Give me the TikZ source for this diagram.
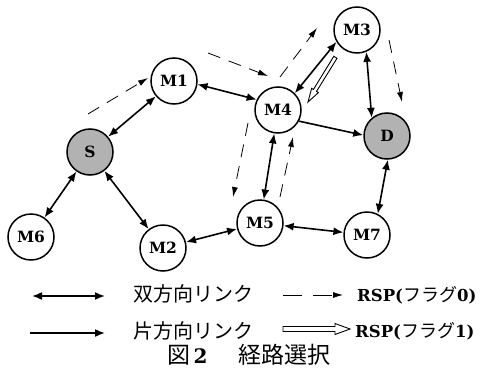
\documentclass[tikz,border=0pt]{standalone}
\usepackage{fontspec}
\newfontfamily\jp{Noto Sans CJK JP}
\newfontfamily\latb{DejaVu Serif}
\usetikzlibrary{arrows.meta}
\begin{document}
\begin{tikzpicture}[x=1pt,y=-1pt,
  nd/.style={circle,draw,line width=1.5pt,minimum size=46pt,inner sep=0pt,
    font=\fontsize{15.5}{15.5}\selectfont\latb\bfseries},
  gnd/.style={nd,fill=black!30},
  bi/.style={line width=1.6pt,{Latex[length=10pt,width=8pt]}-{Latex[length=10pt,width=8pt]}},
  uni/.style={line width=1.6pt,-{Latex[length=10pt,width=8pt]}},
  rsp/.style={line width=0.8pt,dash pattern=on 13pt off 9pt,-{Latex[length=10pt,width=6pt]}},
  hollow/.style={line width=0.9pt,fill=white,line join=miter},
  lab/.style={anchor=west,inner sep=0pt,font=\fontsize{20}{20}\selectfont\jp},
  rsplab/.style={anchor=west,inner sep=0pt,font=\fontsize{18}{18}\selectfont\jp},
]
\useasboundingbox (0,0) rectangle (494,369);
% nodes
\node[gnd] (S)  at (90,152)  {S};
\node[nd]  (M1) at (174,81)  {M1};
\node[nd]  (M6) at (31,237)  {M6};
\node[nd]  (M2) at (163,248) {M2};
\node[nd]  (M4) at (278,110) {M4};
\node[nd]  (M3) at (357,30)  {M3};
\node[gnd] (D)  at (387,136) {D};
\node[nd]  (M5) at (260,223) {M5};
\node[nd]  (M7) at (367,235) {M7};
% links
\draw[bi] (S) -- (M1);
\draw[bi] (S) -- (M6);
\draw[bi] (S) -- (M2);
\draw[bi] (M1.352) -- (M4.154);
\draw[bi] (M2) -- (M5);
\draw[bi] (M4) -- (M5);
\draw[bi] (M4.45) -- (M3.210);
\draw[bi] (M3.293) -- (D.130);
\draw[uni] (M4.332) -- (D.178);
\draw[bi] (D.272) -- (M7.63);
\draw[bi] (M5) -- (M7);
% RSP flag 0 (dashed)
\coordinate (r1a) at (88,114);  \coordinate (r1b) at (148,78);
\coordinate (r2a) at (208,53);  \coordinate (r2b) at (268,76);
\coordinate (r3a) at (280,77);  \coordinate (r3b) at (317,28);
\coordinate (r4a) at (389,40);  \coordinate (r4b) at (402,102);
\coordinate (r5a) at (248,123); \coordinate (r5b) at (233,197);
\coordinate (r6a) at (280,197); \coordinate (r6b) at (293,137);
\draw[rsp] (r1a) -- (r1b);
\draw[rsp] (r2a) -- (r2b);
\draw[rsp] (r3a) -- (r3b);
\draw[rsp] (r4a) -- (r4b);
\draw[rsp] (r5a) -- (r5b);
\draw[rsp] (r6a) -- (r6b);
% RSP flag 1 (hollow arrow) M3 -> M4
\draw[hollow] (337.0,58.3) -- (316.5,91.4) -- (318.4,92.6) -- (308,102)
  -- (311.6,88.4) -- (313.4,89.5) -- (333.8,56.3) -- cycle;
% legend
\coordinate (l1a) at (32,296);  \coordinate (l1b) at (105,296);
\coordinate (l2a) at (30,333);  \coordinate (l2b) at (105,333);
\draw[bi] (l1a) -- (l1b);
\draw[uni] (l2a) -- (l2b);
\node[lab] (t1) at (133,294) {双方向リンク};
\node[lab] (t2) at (133,331) {片方向リンク};
\coordinate (l3a) at (283,295); \coordinate (l3b) at (343,295);
\draw[line width=0.8pt,dash pattern=on 19pt off 11pt,-{Latex[length=10pt,width=6pt]}] (l3a) -- (l3b);
\node[rsplab] (t3) at (357,295) {{\latb\fontsize{16.5}{16.5}\selectfont\bfseries RSP(}フラグ{\latb\fontsize{16.5}{16.5}\selectfont\bfseries 0)}};
\draw[hollow] (283,326.5) -- (335,326.5) -- (335,323.5) -- (350,329) -- (335,334.5)
  -- (335,331.5) -- (283,331.5) -- cycle;
\node[rsplab] (t4) at (355,331) {{\latb\fontsize{16.5}{16.5}\selectfont\bfseries RSP(}フラグ{\latb\fontsize{16.5}{16.5}\selectfont\bfseries 1)}};
\node[anchor=west,inner sep=0pt,font=\fontsize{23}{23}\selectfont\jp] (cap) at (167,355)
  {図{\latb\bfseries\fontsize{20}{20}\selectfont\,2}\hspace{31pt}経路選択};
\end{tikzpicture}
\end{document}
